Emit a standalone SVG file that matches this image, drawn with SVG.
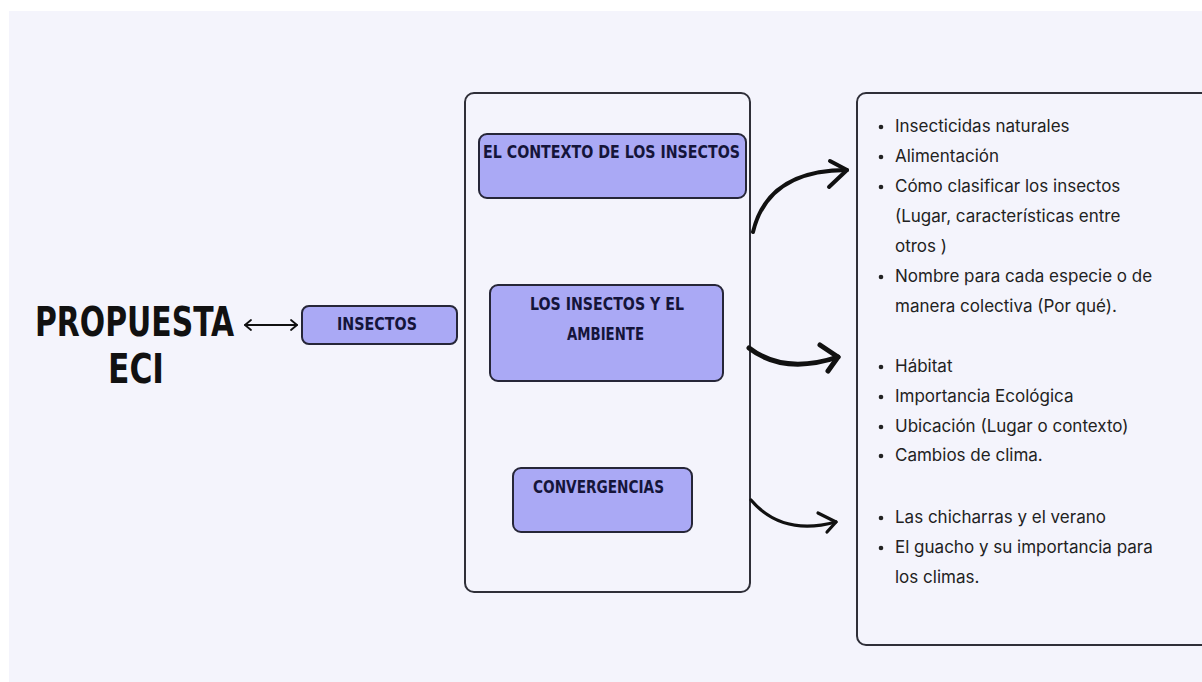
<svg xmlns="http://www.w3.org/2000/svg" width="1202" height="682" viewBox="0 0 1202 682">
<defs>
<style>
.box{fill:#f4f4fc;stroke:#2f2f38;stroke-width:2}
.node{fill:#aaa9f5;stroke:#262638;stroke-width:2}
.lbl{font-family:"DejaVu Sans Condensed","DejaVu Sans",sans-serif;font-weight:bold;fill:#15153a;font-size:17px}
.title{font-family:"DejaVu Sans Condensed","DejaVu Sans",sans-serif;font-weight:bold;fill:#111;font-size:40px}
.li{font-family:Inter,"Noto Sans",sans-serif;font-size:17px;fill:#222}
.conn{fill:none;stroke:#111;stroke-linecap:round;stroke-linejoin:round}
</style>
</defs>
<rect x="0" y="0" width="1202" height="682" fill="#ffffff"/>
<rect x="9" y="11" width="1193" height="671" fill="#f4f4fc"/>

<g id="title">
<text class="title" x="35" y="336" textLength="199" lengthAdjust="spacingAndGlyphs">PROPUESTA</text>
<text class="title" x="108" y="383" textLength="56" lengthAdjust="spacingAndGlyphs">ECI</text>
</g>

<g id="container">
<rect class="box" x="465" y="93" width="285" height="499" rx="9"/>
</g>
<g id="list-box">
<rect class="box" x="857" y="93" width="360" height="552" rx="9"/>
</g>

<g id="insectos">
<rect class="node" x="302" y="306" width="155" height="38" rx="7"/>
<text class="lbl" x="337" y="330" textLength="80" lengthAdjust="spacingAndGlyphs">INSECTOS</text>
</g>

<g id="contexto">
<rect class="node" x="479" y="134" width="267" height="64" rx="8"/>
<text class="lbl" x="483" y="158" textLength="257" lengthAdjust="spacingAndGlyphs">EL CONTEXTO DE LOS INSECTOS</text>
</g>

<g id="ambiente">
<rect class="node" x="490" y="285" width="233" height="96" rx="8"/>
<text class="lbl" x="530" y="310" textLength="154" lengthAdjust="spacingAndGlyphs">LOS INSECTOS Y EL</text>
<text class="lbl" x="567" y="340" textLength="77" lengthAdjust="spacingAndGlyphs">AMBIENTE</text>
</g>

<g id="convergencias">
<rect class="node" x="513" y="468" width="179" height="64" rx="8"/>
<text class="lbl" x="533" y="493" textLength="131" lengthAdjust="spacingAndGlyphs">CONVERGENCIAS</text>
</g>

<g id="connectors">
<path class="conn" stroke-width="1.8" d="M245 325 H297"/>
<path class="conn" stroke-width="1.8" d="M251 320 L245 325 L251 330"/>
<path class="conn" stroke-width="1.8" d="M291 320 L297 325 L291 330"/>

<path class="conn" stroke-width="4" d="M753 232 C763 190 795 170 847 170"/>
<path class="conn" stroke-width="4" d="M830 161 L847 170 L829 187"/>

<path class="conn" stroke-width="5" d="M749 348 C775 368 805 368 838 357"/>
<path class="conn" stroke-width="5" d="M820 345 L838 357 L828 371"/>

<path class="conn" stroke-width="3.2" d="M751 500 C768 520 795 533 836 522"/>
<path class="conn" stroke-width="3.2" d="M818 513 L836 522 L827 532"/>
</g>

<g id="list-1">
<circle cx="881" cy="127" r="2.3" fill="#222"/>
<text class="li" x="895" y="132">Insecticidas naturales</text>
<circle cx="881" cy="157" r="2.3" fill="#222"/>
<text class="li" x="895" y="162">Alimentación</text>
<circle cx="881" cy="187" r="2.3" fill="#222"/>
<text class="li" x="895" y="192">Cómo clasificar los insectos</text>
<text class="li" x="895" y="222">(Lugar, características entre</text>
<text class="li" x="895" y="252">otros )</text>
<circle cx="881" cy="277" r="2.3" fill="#222"/>
<text class="li" x="895" y="282">Nombre para cada especie o de</text>
<text class="li" x="895" y="312">manera colectiva (Por qué).</text>
</g>

<g id="list-2">
<circle cx="881" cy="367" r="2.3" fill="#222"/>
<text class="li" x="895" y="372">Hábitat</text>
<circle cx="881" cy="397" r="2.3" fill="#222"/>
<text class="li" x="895" y="402">Importancia Ecológica</text>
<circle cx="881" cy="427" r="2.3" fill="#222"/>
<text class="li" x="895" y="432">Ubicación (Lugar o contexto)</text>
<circle cx="881" cy="456" r="2.3" fill="#222"/>
<text class="li" x="895" y="461">Cambios de clima.</text>
</g>

<g id="list-3">
<circle cx="881" cy="518" r="2.3" fill="#222"/>
<text class="li" x="895" y="523">Las chicharras y el verano</text>
<circle cx="881" cy="548" r="2.3" fill="#222"/>
<text class="li" x="895" y="553">El guacho y su importancia para</text>
<text class="li" x="895" y="583">los climas.</text>
</g>
</svg>
